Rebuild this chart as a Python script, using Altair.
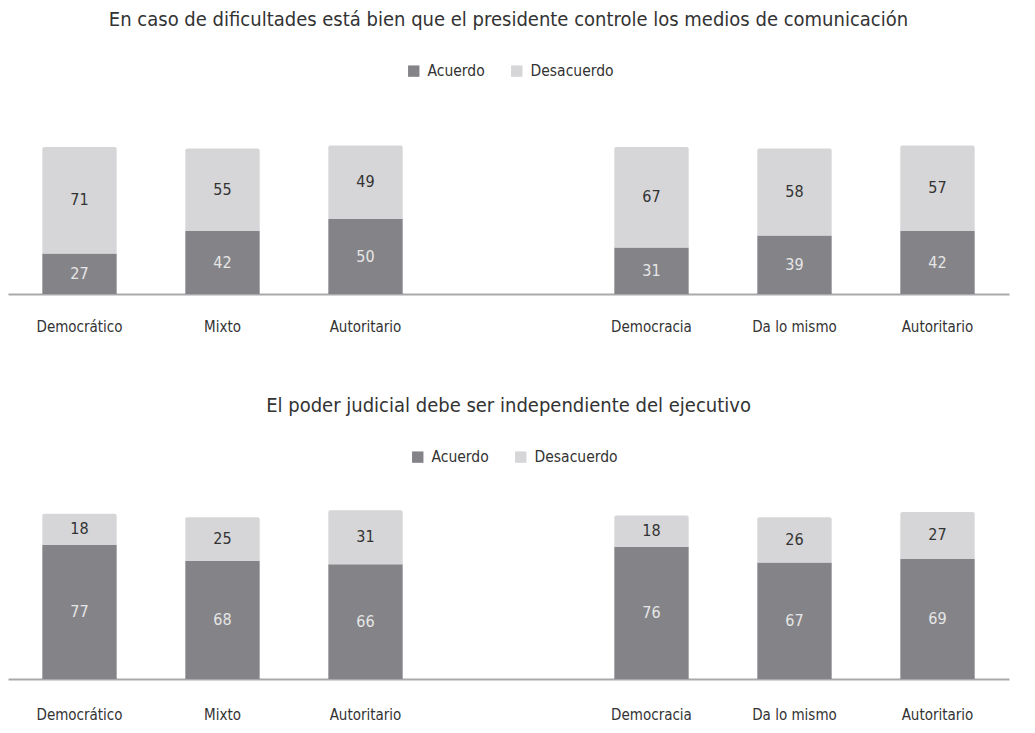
import altair as alt
import pandas as pd

FONT = "'Liberation Sans Narrow', 'DejaVu Sans Condensed', 'Roboto Condensed', sans-serif"

# category keys (trailing spaces keep repeated labels distinct; " " is the empty gap slot)
categories = ["Democrático", "Mixto", "Autoritario", " ", "Democracia", "Da lo mismo", "Autoritario "]
bar_cats = ["Democrático", "Mixto", "Autoritario", "Democracia", "Da lo mismo", "Autoritario "]

title1 = "En caso de dificultades está bien que el presidente controle los medios de comunicación"
acuerdo1 = [27, 42, 50, 31, 39, 42]
desacuerdo1 = [71, 55, 49, 67, 58, 57]

title2 = "El poder judicial debe ser independiente del ejecutivo"
acuerdo2 = [77, 68, 66, 76, 67, 69]
desacuerdo2 = [18, 25, 31, 18, 26, 27]

series = ["Acuerdo", "Desacuerdo"]
colors = ["#848488", "#d6d6d8"]


def make_df(acu, des):
    rows = []
    for c, a, d in zip(bar_cats, acu, des):
        rows.append({"cat": c, "serie": "Acuerdo", "v": a, "y0": 0, "y1": a, "mid": a / 2})
        rows.append({"cat": c, "serie": "Desacuerdo", "v": d, "y0": a, "y1": a + d,
                     "mid": a + d / 2})
    return pd.DataFrame(rows)


def panel(df, title, height, legend_x, legend_y, title_offset, label_pad):
    x = alt.X("cat:N", sort=categories,
              scale=alt.Scale(domain=categories, paddingInner=0.48, paddingOuter=0.24),
              axis=alt.Axis(title=None, labelAngle=0, ticks=False, domainColor="#a9a9ab",
                            domainWidth=2, labelFont=FONT, labelFontSize=15,
                            labelColor="#333333", labelPadding=label_pad))
    y = alt.Y("y0:Q", scale=alt.Scale(domain=[0, 100]), axis=None)
    color = alt.Color("serie:N", scale=alt.Scale(domain=series, range=colors),
                      legend=alt.Legend(title=None, orient="none", direction="horizontal",
                                        legendX=legend_x, legendY=legend_y,
                                        symbolType="square", symbolSize=130,
                                        symbolStrokeWidth=0, labelFont=FONT,
                                        labelFontSize=15.5, labelColor="#333333",
                                        labelOffset=6, columnPadding=24))
    base = alt.Chart(df)
    acu = base.transform_filter(alt.datum.serie == "Acuerdo").mark_bar().encode(
        x=x, y=y, y2="y1:Q", color=color)
    des = base.transform_filter(alt.datum.serie == "Desacuerdo").mark_bar(
        cornerRadiusTopLeft=2, cornerRadiusTopRight=2).encode(
        x=x, y=y, y2="y1:Q", color=color)
    txt = base.mark_text(font=FONT, fontSize=16, baseline="middle").encode(
        x=alt.X("cat:N", sort=categories),
        y=alt.Y("mid:Q"),
        text="v:Q",
        color=alt.condition(alt.datum.serie == "Acuerdo",
                            alt.value("#e6e6e6"), alt.value("#333333")))
    return alt.layer(acu, des, txt).properties(
        width=1001, height=height,
        title=alt.TitleParams(title, font=FONT, fontSize=20, fontWeight="normal",
                              color="#333333", anchor="middle", offset=title_offset))


top = panel(make_df(acuerdo1, desacuerdo1), title1, 150, 398, -81, 33, 25)
bottom = panel(make_df(acuerdo2, desacuerdo2), title2, 174, 402, -56, 33, 28)

chart = alt.vconcat(top, bottom, spacing=62).resolve_scale(color="independent").properties(
    padding={"left": 0, "top": 2, "right": 5, "bottom": 5}
).configure(background="white").configure_view(strokeWidth=0)

chart.save("out.html", embed_options={"renderer": "svg", "actions": False})
